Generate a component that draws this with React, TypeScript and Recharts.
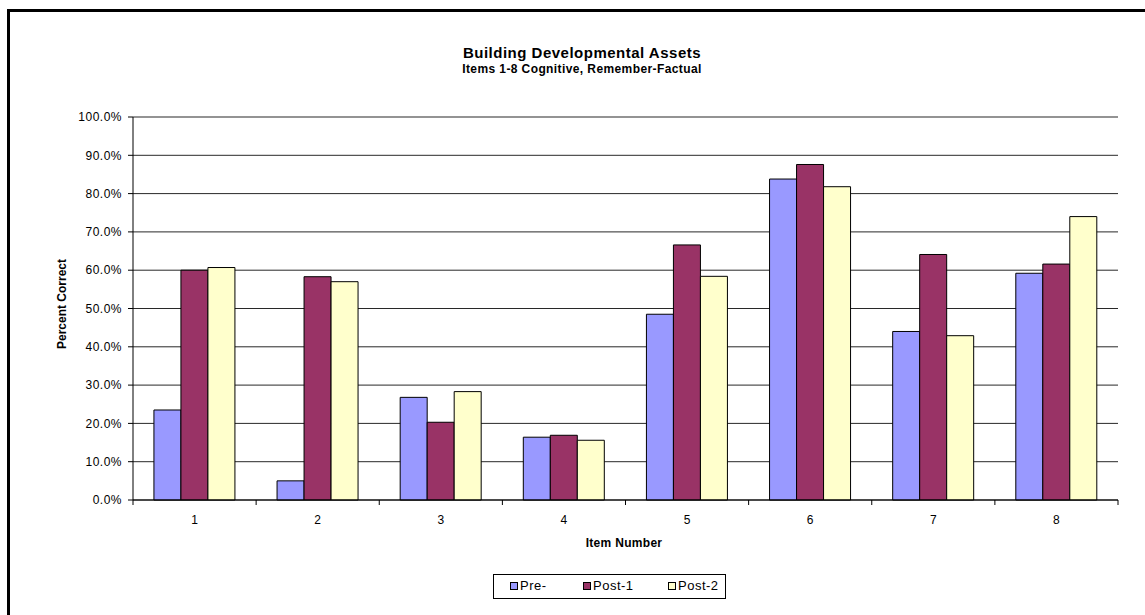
import React from "react";
import { BarChart, Bar, XAxis, YAxis, CartesianGrid } from "recharts";

const categories = ["1", "2", "3", "4", "5", "6", "7", "8"];
const preValues = [23.5, 5.0, 26.8, 16.4, 48.5, 83.8, 44.0, 59.2];
const post1Values = [60.0, 58.3, 20.3, 16.9, 66.6, 87.6, 64.1, 61.6];
const post2Values = [60.7, 57.0, 28.3, 15.6, 58.4, 81.8, 42.9, 74.0];
const yTicks = [0, 10, 20, 30, 40, 50, 60, 70, 80, 90, 100];

const seriesInfo = [
  { key: "pre", name: "Pre-", color: "#9999FF" },
  { key: "post1", name: "Post-1", color: "#993366" },
  { key: "post2", name: "Post-2", color: "#FFFFCC" },
];

const data = categories.map((c, i) => ({
  item: c,
  pre: preValues[i],
  post1: post1Values[i],
  post2: post2Values[i],
}));

const FONT = '"Liberation Sans", Arial, sans-serif';

// excel style: labels centered, tick marks between the categories
const ItemTick = (props: any) => {
  const { x, y, payload, index } = props;
  const half = payload.offset || 0;
  const top = 500;
  return (
    <g>
      <line x1={x - half} x2={x - half} y1={top} y2={top + 5} stroke="#000" />
      {index === categories.length - 1 && (
        <line x1={x + half} x2={x + half} y1={top} y2={top + 5} stroke="#000" />
      )}
      <text x={x} y={y} dy="0.71em" textAnchor="middle" fontSize={12} fill="#000" fontFamily={FONT}>
        {payload.value}
      </text>
    </g>
  );
};

export default function App() {
  return (
    <div
      style={{
        position: "absolute",
        left: 0,
        top: 0,
        width: 1145,
        height: 615,
        background: "#fff",
        overflow: "hidden",
        fontFamily: FONT,
      }}
    >
      <div
        style={{
          position: "absolute",
          left: 7,
          top: 9,
          width: 1200,
          height: 700,
          borderLeft: "3px solid #000",
          borderTop: "3px solid #000",
        }}
      />
      <div
        style={{
          position: "absolute",
          left: 0,
          width: 1164,
          top: 44,
          textAlign: "center",
          fontSize: 15,
          letterSpacing: 0.5,
          fontWeight: "bold",
        }}
      >
        Building Developmental Assets
      </div>
      <div
        style={{
          position: "absolute",
          left: 0,
          width: 1164,
          top: 62,
          textAlign: "center",
          fontSize: 12,
          letterSpacing: 0.4,
          fontWeight: "bold",
        }}
      >
        Items 1-8 Cognitive, Remember-Factual
      </div>
      <div
        style={{
          position: "absolute",
          left: 524,
          width: 200,
          top: 536,
          textAlign: "center",
          fontSize: 12,
          letterSpacing: 0.3,
          fontWeight: "bold",
        }}
      >
        Item Number
      </div>
      <div
        style={{
          position: "absolute",
          left: 62 - 100,
          top: 304 - 7,
          width: 200,
          textAlign: "center",
          fontSize: 12,
          fontWeight: "bold",
          transform: "rotate(-90deg)",
        }}
      >
        Percent Correct
      </div>

      <BarChart
        width={1145}
        height={615}
        data={data}
        margin={{ top: 117, right: 27, bottom: 85, left: 73 }}
        barCategoryGap="17%"
        barGap={0}
        style={{ position: "absolute", left: 0, top: 0 }}
      >
        <CartesianGrid vertical={false} stroke="#111" strokeOpacity={0.9} />
        <XAxis
          dataKey="item"
          height={30}
          axisLine={{ stroke: "#000" }}
          tickLine={false}
          tickSize={5}
          tickMargin={10}
          tick={<ItemTick />}
          interval={0}
        />
        <YAxis
          width={60}
          domain={[0, 100]}
          ticks={yTicks}
          interval={0}
          axisLine={{ stroke: "#000" }}
          tickLine={{ stroke: "#000" }}
          tickSize={5}
          tickMargin={6}
          tick={{ fontSize: 12, fill: "#000", fontFamily: FONT, letterSpacing: 0.5 }}
          tickFormatter={(v: number) => `${v.toFixed(1)}%`}
        />
        <YAxis
          yAxisId="edge"
          orientation="right"
          width={0}
          tick={false}
          tickLine={false}
          axisLine={{ stroke: "#999" }}
        />
        {seriesInfo.map((s) => (
          <Bar
            key={s.key}
            dataKey={s.key}
            name={s.name}
            fill={s.color}
            stroke="#000"
            strokeWidth={1}
            isAnimationActive={false}
          />
        ))}
      </BarChart>

      <div
        style={{
          position: "absolute",
          left: 493,
          top: 574,
          width: 231,
          height: 23,
          border: "1px solid #000",
          fontSize: 13,
          letterSpacing: 0.5,
        }}
      >
        {seriesInfo.map((s, i) => (
          <div
            key={s.key}
            style={{
              position: "absolute",
              left: [16, 89, 174][i],
              top: 3,
              display: "flex",
              alignItems: "center",
              whiteSpace: "nowrap",
            }}
          >
            <span
              style={{
                display: "inline-block",
                width: 6,
                height: 6,
                border: "1px solid #000",
                background: s.color,
                marginRight: 2,
              }}
            />
            {s.name}
          </div>
        ))}
      </div>
    </div>
  );
}
